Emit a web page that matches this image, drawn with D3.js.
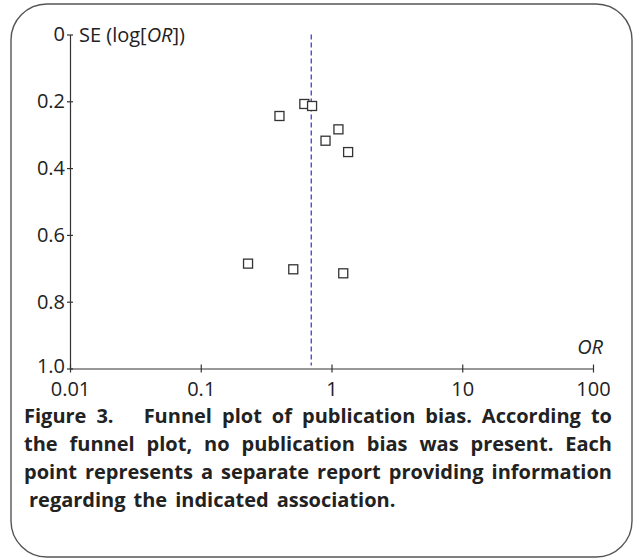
<!DOCTYPE html>
<html>
<head>
<meta charset="utf-8">
<script src="https://cdn.jsdelivr.net/npm/d3@7"></script>
<style>
  body { margin: 0; background: #fff; }
  text { font-family: "Open Sans", sans-serif; fill: #222; }
</style>
</head>
<body>
<svg width="638" height="560"></svg>
<script>
  // study estimates
  const orValues = [0.62, 0.71, 0.40, 1.13, 0.90, 1.34, 0.23, 0.51, 1.23];
  const seValues = [0.208, 0.214, 0.244, 0.284, 0.318, 0.352, 0.686, 0.703, 0.715];
  const pooledOR = 0.70;

  const xTicks = [0.01, 0.1, 1, 10, 100];
  const xTickLabels = ['0.01', '0.1', '1', '10', '100'];
  const yTicks = [0, 0.2, 0.4, 0.6, 0.8, 1.0];
  const yTickLabels = ['0', '0.2', '0.4', '0.6', '0.8', '1.0'];

  const captionLines = [
    'Figure 3.   Funnel plot of publication bias. According to',
    'the funnel plot, no publication bias was present. Each',
    'point represents a separate report providing information',
    ' regarding the indicated association.'
  ];

  const svg = d3.select('svg');

  // rounded frame
  svg.append('rect')
    .attr('x', 11).attr('y', 4)
    .attr('width', 621).attr('height', 553)
    .attr('rx', 36).attr('ry', 36)
    .attr('fill', 'none')
    .attr('stroke', '#555')
    .attr('stroke-width', 1.4);

  const x = d3.scaleLog().domain([0.01, 100]).range([70, 593]);
  const y = d3.scaleLinear().domain([0, 1]).range([34.5, 368.5]);

  const fontSize = 20;

  // x axis
  const xAxisG = svg.append('g')
    .attr('transform', `translate(0,${y(1)})`)
    .call(d3.axisBottom(x)
      .tickValues(xTicks)
      .tickFormat((d, i) => xTickLabels[i])
      .tickSizeInner(4)
      .tickSizeOuter(0)
      .tickPadding(9));
  xAxisG.selectAll('.tick line').attr('y1', -4);

  // y axis
  const yAxisG = svg.append('g')
    .attr('transform', `translate(${x(0.01)},0)`)
    .call(d3.axisLeft(y)
      .tickValues(yTicks)
      .tickFormat((d, i) => yTickLabels[i])
      .tickSizeInner(3)
      .tickSizeOuter(0)
      .tickPadding(2));
  yAxisG.selectAll('.tick line').attr('x1', 3);
  // bottom label sits tight against the 0.01 label, lift it a touch
  yAxisG.selectAll('.tick text').filter(d => d === 1).attr('dy', '0.2em');

  svg.selectAll('.domain, .tick line')
    .attr('stroke', '#333')
    .attr('stroke-width', 1.2);
  svg.selectAll('.tick text')
    .attr('font-size', fontSize)
    .attr('font-family', '"Open Sans", sans-serif')
    .attr('fill', '#222');

  // axis titles
  const yTitle = svg.append('text')
    .attr('x', 79).attr('y', y(0) + 7)
    .attr('font-size', fontSize);
  yTitle.append('tspan').text('SE (log[');
  yTitle.append('tspan').attr('font-style', 'italic').text('OR');
  yTitle.append('tspan').text('])');

  svg.append('text')
    .attr('x', 603).attr('y', 354)
    .attr('text-anchor', 'end')
    .attr('font-size', fontSize)
    .attr('font-style', 'italic')
    .text('OR');

  // pooled estimate line
  svg.append('line')
    .attr('x1', x(pooledOR)).attr('x2', x(pooledOR))
    .attr('y1', y(0)).attr('y2', y(1) - 3)
    .attr('stroke', '#3f3fd0')
    .attr('stroke-width', 1.3)
    .attr('stroke-dasharray', '5,3');

  // study markers
  const size = 9;
  svg.selectAll('rect.study')
    .data(orValues.map((d, i) => ({ or: d, se: seValues[i] })))
    .enter().append('rect')
      .attr('class', 'study')
      .attr('x', d => x(d.or) - size / 2)
      .attr('y', d => y(d.se) - size / 2)
      .attr('width', size)
      .attr('height', size)
      .attr('fill', '#fff')
      .attr('stroke', '#333')
      .attr('stroke-width', 1.3);

  // justified caption (words squeezed a little when the font runs wide)
  const capLeft = 24, capRight = 612, capTop = 423, capStep = 28, minGap = 8;
  let lastSx = 1;
  captionLines.forEach((line, i) => {
    const g = svg.append('g');
    const yy = capTop + i * capStep;
    const last = i === captionLines.length - 1;
    const parts = line.split(/(\s+)/);
    let lead = 0;
    if (parts[0] === '') { parts.shift(); lead = parts.shift().length; }
    const words = [], gaps = [];
    parts.forEach(p => {
      if (/^\s+$/.test(p)) gaps.push(p.length); else words.push(p);
    });
    const nodes = words.map(w => g.append('text')
      .attr('y', yy)
      .attr('font-size', 20)
      .attr('font-weight', 'bold')
      .text(w));
    const widths = nodes.map(n => n.node().getComputedTextLength());
    const total = d3.sum(widths);
    const units = d3.sum(gaps);
    const avail = capRight - capLeft;
    let sx = last ? lastSx : Math.min(1, (avail - units * minGap) / total);
    lastSx = sx;
    const w2 = widths.map(w => w * sx);
    const unit = last ? minGap : (avail - total * sx) / units;
    let cx = capLeft + lead * 5;
    nodes.forEach((n, j) => {
      n.attr('x', cx);
      if (sx < 1) n.attr('textLength', w2[j]).attr('lengthAdjust', 'spacingAndGlyphs');
      cx += w2[j] + (j < gaps.length ? gaps[j] * unit : 0);
    });
  });
</script>
</body>
</html>
